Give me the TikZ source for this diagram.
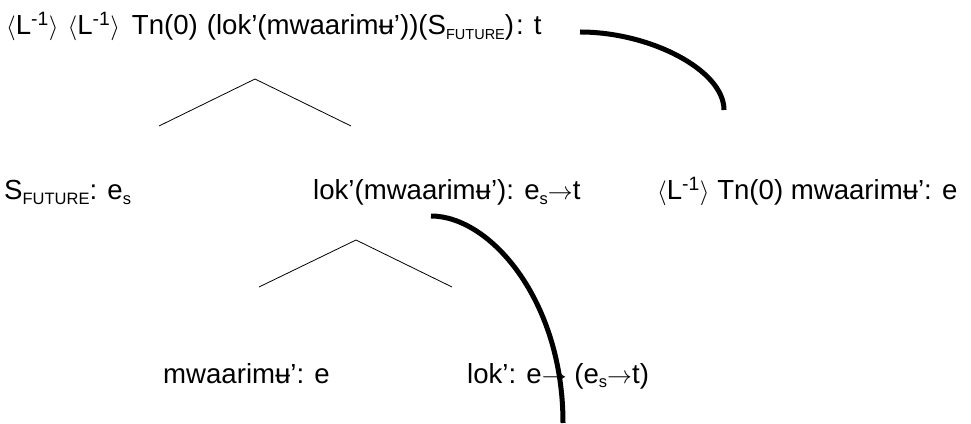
\documentclass[tikz,border=0pt]{standalone}
\usepackage{fontspec}
\setmainfont{Liberation Sans}
\newcommand\Lmin{\ensuremath{\langle}L\textsuperscript{-1}\ensuremath{\rangle}}
\newcommand\sbs[1]{\raisebox{-0.18em}{\fontsize{16.5}{17}\selectfont #1}}
\newcommand\sbt[1]{\raisebox{-0.18em}{\fontsize{14.5}{15}\selectfont #1}}
\newcommand\arr{\ensuremath{\rightarrow}}
\begin{document}
\begin{tikzpicture}[x=1pt,y=1pt,
  lbl/.style={inner sep=0pt,anchor=base west,font=\fontsize{27.6}{30}\selectfont},
  branch/.style={line width=0.8pt},
  link/.style={line width=5pt}]
\useasboundingbox (0,0) rectangle (971,423);
\node[lbl] (top) at (6,388) {\Lmin\hspace{9pt}\Lmin\hspace{12pt}Tn(0)\hspace{9pt}(lok’(mwaarimʉ’))(S\sbt{FUTURE})\hspace{2pt}: t};
\node[lbl] (sfut) at (4,223) {S\sbs{FUTURE}: e\sbs{s}};
\node[lbl] (lokm) at (313,223) {lok’(mwaarimʉ’): e\sbs{s}\arr t};
\node[lbl] (lmw) at (657,223) {\Lmin\ Tn(0) mwaarimʉ’: e};
\node[lbl] (mw) at (163,40) {mwaarimʉ’: e};
\node[lbl] (lok) at (467,40) {lok’: e\arr\ (e\sbs{s}\arr t)};
\coordinate (t1) at (255,344);
\coordinate (t1l) at (159,297);
\coordinate (t1r) at (351,297);
\coordinate (t2) at (356,183);
\coordinate (t2l) at (259,136);
\coordinate (t2r) at (452,136);
\draw[branch] (t1l) -- (t1) -- (t1r);
\draw[branch] (t2l) -- (t2) -- (t2r);
\coordinate (c1s) at (580,391);
\coordinate (c1e) at (724,313);
\coordinate (c2s) at (431,207);
\coordinate (c2e) at (563,0);
\draw[link] (c1s) .. controls (650,391) and (724,353) .. (c1e);
\draw[link] (c2s) .. controls (490,207) and (563,123) .. (c2e);
\end{tikzpicture}
\end{document}
